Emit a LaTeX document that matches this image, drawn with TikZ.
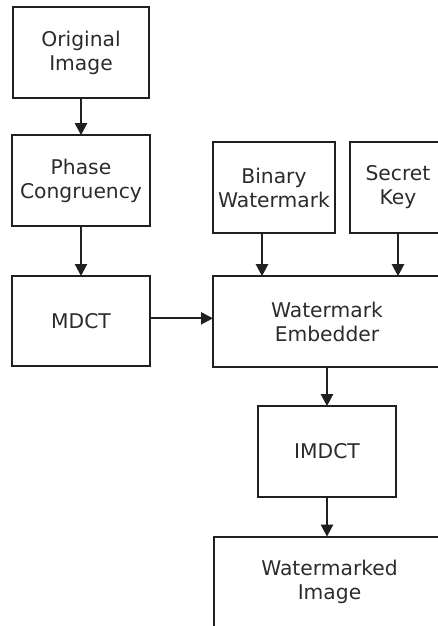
\documentclass[tikz,border=0pt]{standalone}
\usepackage{fontspec}
\setmainfont{DejaVu Sans}
\usetikzlibrary{arrows.meta}
\definecolor{ink}{HTML}{231F20}
\definecolor{txt}{HTML}{2B2B2B}
\begin{document}
\begin{tikzpicture}[x=0.75pt,y=-0.75pt,inner sep=0pt,outer sep=0pt,line width=1.7pt,ink,
blk/.style={draw=ink,rectangle,align=center,text=txt,font=\fontsize{15.2}{18}\selectfont},
>={Triangle[width=9pt,length=9pt]}]
\useasboundingbox (0,0) rectangle (438,626);

\draw (81,52.5) node[blk,minimum width=102pt,minimum height=68pt] (orig) {Original\\Image};
\draw (81,180.5) node[blk,minimum width=103.5pt,minimum height=68pt] (phase) {Phase\\Congruency};
\draw (81,321) node[blk,minimum width=103.5pt,minimum height=67.5pt] (mdct) {MDCT};
\draw (274,187.5) node[blk,minimum width=91.5pt,minimum height=68pt] (bin) {Binary\\Watermark};
\draw (398,187.5) node[blk,minimum width=72pt,minimum height=68pt] (key) {Secret\\Key};
\draw (327,321.5) node[blk,minimum width=171pt,minimum height=68pt] (emb) {Watermark\\Embedder};
\draw (327,451.5) node[blk,minimum width=103.5pt,minimum height=68pt] (imdct) {IMDCT};
\draw (329.5,582) node[blk,minimum width=173pt,minimum height=68pt] (out) {Watermarked\\Image};

\draw[->] (orig.south) -- (phase.north);
\draw[->] (phase.south) -- (mdct.north);
\draw[->] ([yshift=2pt]mdct.east) -- ([yshift=2pt]mdct.east -| emb.west);
\draw[->] ([xshift=-9pt]bin.south) -- ([xshift=-9pt]bin.south |- emb.north);
\draw[->] (key.south) -- (key.south |- emb.north);
\draw[->] (emb.south) -- (emb.south |- imdct.north);
\draw[->] (imdct.south) -- (imdct.south |- out.north);

\end{tikzpicture}
\end{document}
